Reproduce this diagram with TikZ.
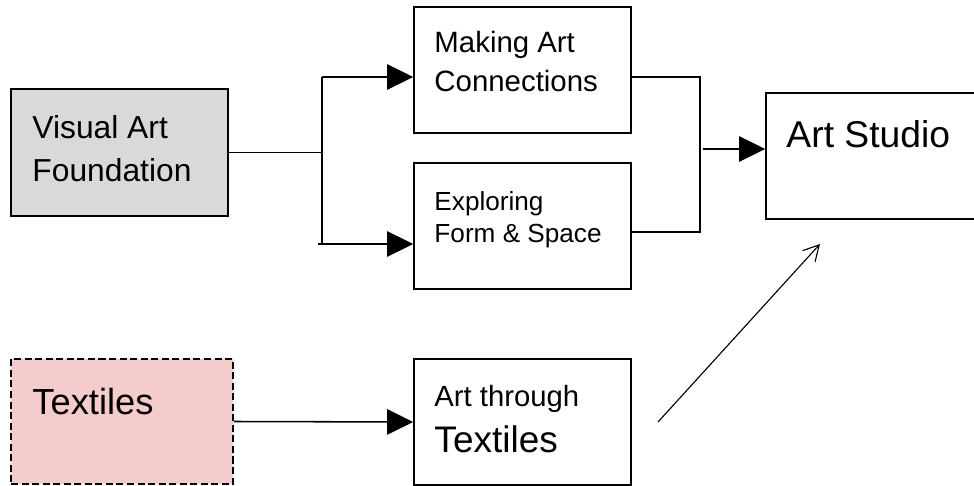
\documentclass[tikz,border=0pt]{standalone}
\usepackage{fontspec}
\setmainfont{Liberation Sans}
\usetikzlibrary{arrows.meta,calc}
\definecolor{foundgray}{HTML}{D9D9D9}
\definecolor{textpink}{HTML}{F4CCCC}
\tikzset{stage/.style={
    draw, line width=1.1pt,
    minimum width=5.425cm, minimum height=3.15cm,
    inner sep=0pt
  },
  lbl/.style={anchor=base west, inner sep=0pt, align=left},
  wire/.style={line width=1.1pt},
  tri/.style={-{Triangle[length=18.5pt,width=18pt]}},
  barb/.style={line width=0.8pt, -{Straight Barb[length=11pt,width=12pt]}}
}

\begin{document}
\begin{tikzpicture}[x=0.025cm, y=-0.025cm]
    \useasboundingbox (0,0) rectangle (974,486);
    \clip (0,0) rectangle (974,486);

    % boxes
    \node[stage, fill=foundgray, minimum height=3.175cm] (vaf) at (119.5,152.5) {};
    \node[stage] (mac) at (522.5,70) {};
    \node[stage] (efs) at (522.5,226) {};
    \node[stage] (studio) at (874.5,156) {};
    \node[stage, fill=textpink, dash pattern=on 5pt off 2.5pt,
          minimum width=5.55cm, minimum height=3.125cm] (tex) at (122,421.5) {};
    \node[stage] (att) at (522.5,422) {};

    % texts, placed by the baseline of their last line
    \node[lbl, font=\fontsize{22.6}{30.6}\selectfont] (vaftxt)
      at ($(vaf.north west)+(22,93)$) {Visual Art\\Foundation};
    \node[lbl, font=\fontsize{20.9}{27.7}\selectfont] (mactxt)
      at ($(mac.north west)+(21,85)$) {Making Art\\Connections};
    \node[lbl, font=\fontsize{18.6}{22.8}\selectfont] (efstxt)
      at ($(efs.north west)+(21,80)$) {Exploring\\Form \& Space};
    \node[lbl, font=\fontsize{26.5}{32}\selectfont] (studiotxt)
      at ($(studio.north west)+(21,55)$) {Art Studio};
    \node[lbl, font=\fontsize{25.8}{32}\selectfont] (textxt)
      at ($(tex.north west)+(22,56)$) {Textiles};
    \node[lbl, font=\fontsize{20.8}{32.7}\selectfont] (atttxt)
      at ($(att.north west)+(21,94)$) {Art through\\{\fontsize{26.3}{32.7}\selectfont Textiles}};

    % left split
    \coordinate (jl) at (322,77);
    \coordinate (jlb) at (322,244);
    \draw[wire] (vaf.east) -- (vaf.east -| jl);
    \draw[wire] (jl) -- (jlb);
    \draw[wire, tri] (jl) -- (jl -| mac.west);
    \draw[wire, tri] ($(jlb)+(-4,0)$) -- (jlb -| efs.west);

    % right join
    \coordinate (jr) at (700,77);
    \coordinate (jrb) at (700,232);
    \coordinate (jrm) at (703,149);
    \draw[wire] (jr -| mac.east) -- (jr) -- (jrb) -- (jrb -| efs.east);
    \draw[wire, tri] (jrm) -- (jrm -| studio.west);

    \draw[wire, tri] (tex.east) -- (att.west);

    \coordinate (dfrom) at (658,422);
    \coordinate (dto) at (820,244);
    \draw[barb] (dfrom) -- (dto);
\end{tikzpicture}
\end{document}
